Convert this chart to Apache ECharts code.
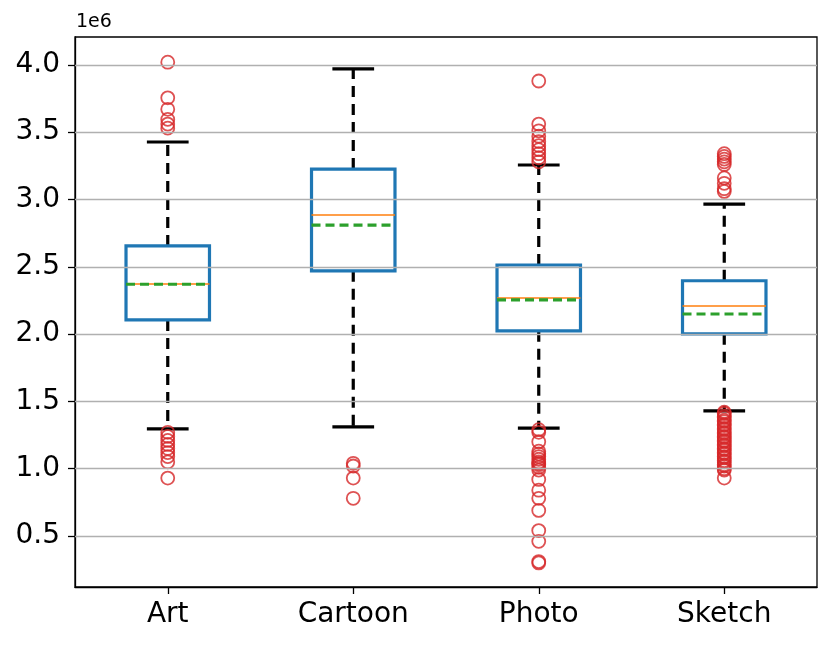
<!DOCTYPE html>
<html>
<head>
<meta charset="utf-8">
<script src="https://cdn.jsdelivr.net/npm/echarts@6/dist/echarts.min.js"></script>
<style>
  html, body { margin: 0; padding: 0; background: #fff; }
  #chart { width: 830px; height: 645px; }
</style>
</head>
<body>
<div id="chart"></div>
<script>
// values in units of 1e6
const categories = ['Art', 'Cartoon', 'Photo', 'Sketch'];
// [whiskerLow, q1, median, q3, whiskerHigh]
const boxStats = [
  [1.295, 2.105, 2.372, 2.655, 3.427],
  [1.31, 2.47, 2.885, 3.226, 3.97],
  [1.302, 2.024, 2.268, 2.513, 3.256],
  [1.429, 2.002, 2.209, 2.396, 2.965]
];
const means = [2.37, 2.81, 2.254, 2.149];
const outliersArt = [4.02, 3.755, 3.67, 3.595, 3.56, 3.53, 1.27, 1.24, 1.21, 1.18, 1.15, 1.12, 1.09, 1.05, 0.93];
const outliersCartoon = [1.04, 1.02, 0.93, 0.78];
const outliersPhoto = [3.88, 3.56, 3.51, 3.47, 3.43, 3.40, 3.37, 3.34, 3.31, 3.28,
  1.29, 1.27, 1.20, 1.13, 1.11, 1.09, 1.07, 1.05, 1.04, 1.03, 1.01, 0.99, 0.92, 0.84, 0.78, 0.69, 0.54, 0.46, 0.31, 0.30];
const outliersSketch = [3.34, 3.32, 3.30, 3.28, 3.26, 3.16, 3.12, 3.08, 3.06,
  1.42, 1.41, 1.39, 1.38, 1.36, 1.35, 1.33, 1.32, 1.30, 1.29, 1.27, 1.26, 1.24, 1.23, 1.21, 1.20,
  1.18, 1.17, 1.15, 1.14, 1.12, 1.11, 1.09, 1.08, 1.06, 1.05, 1.03, 1.02, 1.00, 0.99, 0.93];
const yTicks = [0.5, 1.0, 1.5, 2.0, 2.5, 3.0, 3.5, 4.0];

const outlierData = [];
[outliersArt, outliersCartoon, outliersPhoto, outliersSketch].forEach((arr, i) => {
  arr.forEach(v => outlierData.push([i, v]));
});

const boxData = boxStats.map((s, i) => [i].concat(s).concat([means[i]]));

function renderBox(params, api) {
  const idx = api.value(0);
  const band = api.size([1, 0])[0];
  const half = band * 0.45 / 2;
  const capHalf = half / 2;
  const pLow = api.coord([idx, api.value(1)]);
  const pQ1 = api.coord([idx, api.value(2)]);
  const pMed = api.coord([idx, api.value(3)]);
  const pQ3 = api.coord([idx, api.value(4)]);
  const pHigh = api.coord([idx, api.value(5)]);
  const pMean = api.coord([idx, api.value(6)]);
  const x = pMed[0];
  const whisker = { stroke: '#000', lineWidth: 3.2, lineDash: [11, 7] };
  const cap = { stroke: '#000', lineWidth: 3.2 };
  return {
    type: 'group',
    children: [
      { type: 'line', shape: { x1: x, y1: pQ3[1], x2: x, y2: pHigh[1] }, style: whisker },
      { type: 'line', shape: { x1: x, y1: pQ1[1], x2: x, y2: pLow[1] }, style: whisker },
      { type: 'line', shape: { x1: x - capHalf, y1: pHigh[1], x2: x + capHalf, y2: pHigh[1] }, style: cap },
      { type: 'line', shape: { x1: x - capHalf, y1: pLow[1], x2: x + capHalf, y2: pLow[1] }, style: cap },
      { type: 'rect', shape: { x: x - half, y: pQ3[1], width: half * 2, height: pQ1[1] - pQ3[1] },
        style: { fill: 'none', stroke: '#1f77b4', lineWidth: 3.2 } },
      { type: 'line', shape: { x1: x - half, y1: pMed[1], x2: x + half, y2: pMed[1] },
        style: { stroke: '#ff7f0e', lineWidth: 1.6 } },
      { type: 'line', shape: { x1: x - half, y1: pMean[1], x2: x + half, y2: pMean[1] },
        style: { stroke: '#2ca02c', lineWidth: 3.2, lineDash: [9, 5] } }
    ]
  };
}

const chart = echarts.init(document.getElementById('chart'));
chart.setOption({
  animation: false,
  backgroundColor: '#fff',
  grid: {
    left: 75, right: 13, top: 37, bottom: 58,
    show: true, borderColor: '#000', borderWidth: 1.3, backgroundColor: 'transparent'
  },
  graphic: [{
    type: 'text', left: 76, top: 13,
    style: { text: '1e6', font: '19px "DejaVu Sans"', fill: '#000' }
  }],
  xAxis: {
    type: 'category',
    data: categories,
    axisLine: { show: true, lineStyle: { color: '#000', width: 1.3 } },
    axisTick: { show: true, alignWithLabel: true, length: 7, lineStyle: { color: '#000', width: 1.3 } },
    axisLabel: { color: '#000', fontSize: 28, fontFamily: 'DejaVu Sans', margin: 14 },
    splitLine: { show: false }
  },
  yAxis: {
    type: 'value',
    min: 0.121,
    max: 4.207,
    axisLine: { show: true, lineStyle: { color: '#000', width: 1.3 } },
    axisTick: { show: true, length: 7, customValues: yTicks, lineStyle: { color: '#000', width: 1.3 } },
    axisLabel: {
      color: '#000', fontSize: 28, fontFamily: 'DejaVu Sans', margin: 15,
      customValues: yTicks,
      formatter: v => v.toFixed(1)
    },
    splitLine: { show: false }
  },
  series: [
    {
      type: 'line',
      data: [],
      silent: true,
      markLine: {
        silent: true,
        symbol: 'none',
        label: { show: false },
        lineStyle: { color: '#b0b0b0', width: 1.3, type: 'solid' },
        data: yTicks.map(v => ({ yAxis: v }))
      },
      z: 1
    },
    {
      type: 'custom',
      renderItem: renderBox,
      data: boxData,
      encode: { x: 0, y: [1, 2, 3, 4, 5, 6] },
      z: 2
    },
    {
      type: 'scatter',
      data: outlierData,
      symbol: 'circle',
      symbolSize: 13,
      itemStyle: { color: 'transparent', borderColor: '#d62728', borderWidth: 1.8 },
      z: 3
    }
  ]
});
</script>
</body>
</html>
